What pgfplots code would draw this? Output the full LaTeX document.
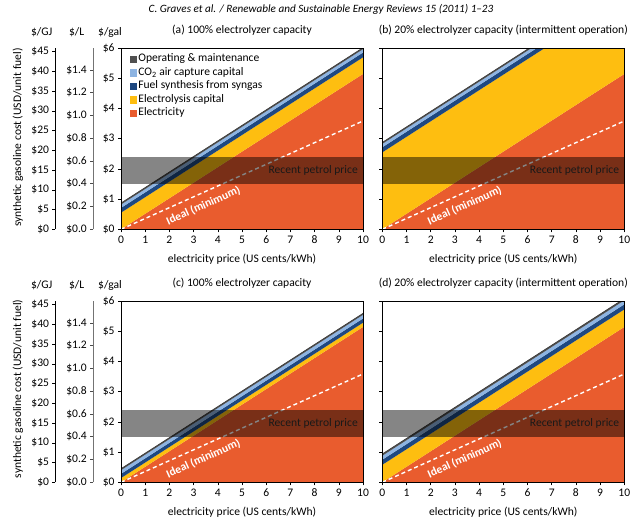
\documentclass[border=0pt]{standalone}
\usepackage{fontspec}
\setmainfont{Carlito}
\usepackage{pgfplots}
\pgfplotsset{compat=1.18}

\definecolor{cEl}{RGB}{233,92,46}
\definecolor{cEC}{RGB}{254,190,16}
\definecolor{cFS}{RGB}{30,72,128}
\definecolor{cCO}{RGB}{141,180,226}
\definecolor{cOM}{RGB}{80,80,80}
\definecolor{cOMd}{RGB}{55,55,55}

\newcommand{\fs}{\fontsize{11.6}{13.5}\selectfont}

\pgfplotsset{
  panel/.style={
    scale only axis, width=242bp, height=181bp,
    xmin=0, xmax=10, ymin=0, ymax=6,
    xtick={0,1,2,3,4,5,6,7,8,9,10}, ytick={0,1,2,3,4,5,6},
    tick align=outside, xtick pos=bottom, ytick pos=left,
    major tick length=3bp,
    axis line style={black, line width=0.8bp},
    tick style={black, line width=0.6bp},
    axis on top,
    ticklabel style={font=\fs},
    /pgf/number format/assume math mode=true,
    yticklabel={\$\pgfmathprintnumber{\tick}},
    title style={font=\fs, at={(axis description cs:0.5,1)}, anchor=center, yshift=12.3bp},
    xlabel={electricity price (US cents/kWh)},
    xlabel style={font=\fs, at={(axis description cs:0.5,-0.166)}, anchor=center},
    clip=true,
  },
  side/.style={
    scale only axis, width=1bp, height=181bp,
    hide x axis, axis y line*=left,
    xmin=0, xmax=1,
    tick align=outside, ytick pos=left, major tick length=3bp,
    ticklabel style={font=\fs},
    /pgf/number format/assume math mode=true,
  },
}

\newcommand{\common}{%
  \addplot[white, line width=1.4bp, dash pattern=on 4bp off 3bp] coordinates {(0,0) (10,3.59)};
  \addplot[fill=black, fill opacity=0.48, draw=none] coordinates {(0,1.5) (10,1.5) (10,2.4) (0,2.4)} -- cycle;
  \node[anchor=east, font=\fs, text=black!90] at (axis cs:9.93,1.96) {Recent petrol price};
  \node[rotate=24.1, text=white, font=\bfseries\fs] at (axis cs:3.4,0.78) {Ideal (minimum)};
}

\begin{document}
\begin{tikzpicture}
\useasboundingbox (0,0) rectangle (640bp,522bp);

% header
\node[font=\fontsize{11.2}{12}\selectfont\itshape] at (321bp,513bp) {C. Graves et al. / Renewable and Sustainable Energy Reviews 15 (2011) 1–23};

% unit headers and y label, row 1
\node[font=\fs] at (41.7bp,489.7bp) {\$/GJ};
\node[font=\fs] at (76.7bp,489.7bp) {\$/L};
\node[font=\fs] at (110bp,489.7bp) {\$/gal};
\node[font=\fs, rotate=90] at (18bp,384.3bp) {synthetic gasoline cost (USD/unit fuel)};
% row 2
\node[font=\fs] at (41.7bp,237bp) {\$/GJ};
\node[font=\fs] at (76.7bp,237bp) {\$/L};
\node[font=\fs] at (110bp,237bp) {\$/gal};
\node[font=\fs, rotate=90] at (18bp,133bp) {synthetic gasoline cost (USD/unit fuel)};

% side axes row 1
\begin{axis}[side, at={(55.5bp,292.7bp)}, anchor=south west,
  ymin=0, ymax=45.86, ytick={0,5,10,15,20,25,30,35,40,45},
  yticklabel={\$\pgfmathprintnumber{\tick}},
  axis line style={black, line width=1.5bp}, tick style={black, line width=0.6bp}]
\end{axis}
\begin{axis}[side, at={(93.3bp,292.7bp)}, anchor=south west,
  ymin=0, ymax=1.59, ytick={0,0.2,0.4,0.6,0.8,1.0,1.2,1.4},
  yticklabel={\$\pgfmathprintnumber[fixed,fixed zerofill,precision=1]{\tick}},
  axis line style={black!55, line width=0.9bp}, tick style={black!70, line width=0.6bp}]
\end{axis}
% side axes row 2
\begin{axis}[side, at={(55.5bp,39.7bp)}, anchor=south west,
  ymin=0, ymax=45.86, ytick={0,5,10,15,20,25,30,35,40,45},
  yticklabel={\$\pgfmathprintnumber{\tick}},
  axis line style={black, line width=1.5bp}, tick style={black, line width=0.6bp}]
\end{axis}
\begin{axis}[side, at={(93.3bp,39.7bp)}, anchor=south west,
  ymin=0, ymax=1.59, ytick={0,0.2,0.4,0.6,0.8,1.0,1.2,1.4},
  yticklabel={\$\pgfmathprintnumber[fixed,fixed zerofill,precision=1]{\tick}},
  axis line style={black!55, line width=0.9bp}, tick style={black!70, line width=0.6bp}]
\end{axis}

% (a)
\begin{axis}[panel, at={(121bp,292.7bp)}, anchor=south west,
  title={(a) 100\% electrolyzer capacity},
  legend cell align=left,
  legend style={at={(rel axis cs:0.035,0.978)}, anchor=north west, draw=none, fill=none,
    font=\fs, row sep=0bp, inner sep=0bp,
    nodes={text height=8bp, text depth=2.5bp, inner sep=1.5bp}},
  legend image code/.code={\fill[#1] (0bp,-3.3bp) rectangle (6.8bp,3.5bp);}]
\addlegendimage{cOM}\addlegendentry{Operating \& maintenance}
\addlegendimage{cCO}\addlegendentry{CO\textsubscript{2} air capture capital}
\addlegendimage{cFS}\addlegendentry{Fuel synthesis from syngas}
\addlegendimage{cEC}\addlegendentry{Electrolysis capital}
\addlegendimage{cEl}\addlegendentry{Electricity}
\addplot[fill=cEl, draw=none, forget plot] coordinates {(0,0) (10,5.15) (10,0)} -- cycle;
\addplot[fill=cEC, draw=none, forget plot] coordinates {(0,0) (10,5.15) (10,5.70) (0,0.55)} -- cycle;
\addplot[fill=cFS, draw=none, forget plot] coordinates {(0,0.55) (10,5.70) (10,5.86) (0,0.71)} -- cycle;
\addplot[fill=cCO, draw=none, forget plot] coordinates {(0,0.71) (10,5.86) (10,5.97) (0,0.82)} -- cycle;
\addplot[fill=cOM, draw=none, forget plot] coordinates {(0,0.82) (10,5.97) (10,6.02) (0,0.87)} -- cycle;
\addplot[cOMd, line width=0.6bp, forget plot] coordinates {(0,0.87) (10,6.02)};
\common
\end{axis}

% (b)
\begin{axis}[panel, at={(382.3bp,292.7bp)}, anchor=south west,
  title={(b) 20\% electrolyzer capacity (intermittent operation)},
  yticklabels={}]
\addplot[fill=cEl, draw=none] coordinates {(0,0) (10,5.15) (10,0)} -- cycle;
\addplot[fill=cEC, draw=none] coordinates {(0,0) (10,5.15) (10,7.70) (0,2.55)} -- cycle;
\addplot[fill=cFS, draw=none] coordinates {(0,2.55) (10,7.70) (10,7.87) (0,2.72)} -- cycle;
\addplot[fill=cCO, draw=none] coordinates {(0,2.72) (10,7.87) (10,7.98) (0,2.83)} -- cycle;
\addplot[fill=cOM, draw=none] coordinates {(0,2.83) (10,7.98) (10,8.03) (0,2.88)} -- cycle;
\addplot[cOMd, line width=0.6bp] coordinates {(0,2.88) (10,8.03)};
\common
\end{axis}

% (c)
\begin{axis}[panel, at={(121bp,39.7bp)}, anchor=south west,
  title={(c) 100\% electrolyzer capacity}]
\addplot[fill=cEl, draw=none] coordinates {(0,0) (10,5.15) (10,0)} -- cycle;
\addplot[fill=cEC, draw=none] coordinates {(0,0) (10,5.15) (10,5.29) (0,0.14)} -- cycle;
\addplot[fill=cFS, draw=none] coordinates {(0,0.14) (10,5.29) (10,5.43) (0,0.28)} -- cycle;
\addplot[fill=cCO, draw=none] coordinates {(0,0.28) (10,5.43) (10,5.55) (0,0.40)} -- cycle;
\addplot[fill=cOM, draw=none] coordinates {(0,0.40) (10,5.55) (10,5.60) (0,0.45)} -- cycle;
\addplot[cOMd, line width=0.6bp] coordinates {(0,0.45) (10,5.60)};
\common
\end{axis}

% (d)
\begin{axis}[panel, at={(382.3bp,39.7bp)}, anchor=south west,
  title={(d) 20\% electrolyzer capacity (intermittent operation)},
  yticklabels={}]
\addplot[fill=cEl, draw=none] coordinates {(0,0) (10,5.15) (10,0)} -- cycle;
\addplot[fill=cEC, draw=none] coordinates {(0,0) (10,5.15) (10,5.73) (0,0.58)} -- cycle;
\addplot[fill=cFS, draw=none] coordinates {(0,0.58) (10,5.73) (10,5.90) (0,0.75)} -- cycle;
\addplot[fill=cCO, draw=none] coordinates {(0,0.75) (10,5.90) (10,6.03) (0,0.88)} -- cycle;
\addplot[fill=cOM, draw=none] coordinates {(0,0.88) (10,6.03) (10,6.09) (0,0.94)} -- cycle;
\addplot[cOMd, line width=0.6bp] coordinates {(0,0.94) (10,6.09)};
\common
\end{axis}
\end{tikzpicture}
\end{document}
